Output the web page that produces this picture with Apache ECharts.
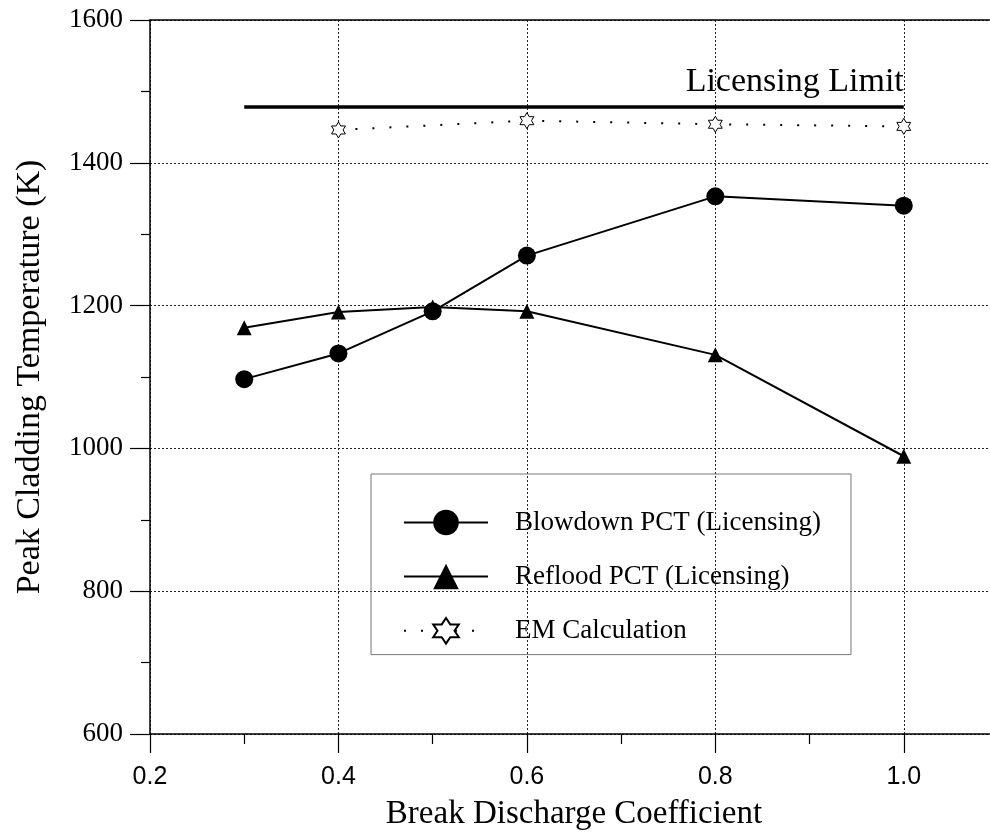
<!DOCTYPE html>
<html><head><meta charset="utf-8">
<script src="https://cdn.jsdelivr.net/npm/echarts@6.0.0/dist/echarts.min.js"></script>
<style>html,body{margin:0;padding:0;background:#fff}#c{width:990px;height:834px}</style>
</head><body><div id="c"></div>
<script>
// ---- data ----
const breakCoef   = [0.3, 0.4, 0.5, 0.6, 0.8, 1.0];
const blowdownPCT = [1097, 1133, 1192, 1270, 1353, 1340];
const refloodPCT  = [1169, 1191, 1198, 1192, 1131, 989];
const emCoef      = [0.4, 0.6, 0.8, 1.0];
const emPCT       = [1446, 1459, 1454, 1451];
const licensingLimit = 1478;
const limitRange  = [0.3, 1.0];
const xRange = [0.2, 1.1];
const yRange = [600, 1600];
const seriesNames = ['Blowdown PCT (Licensing)', 'Reflood PCT (Licensing)', 'EM Calculation'];
const xTitle = 'Break Discharge Coefficient';
const yTitle = 'Peak Cladding Temperature (K)';
const limitText = 'Licensing Limit';

const pairs = (xs, ys) => xs.map((x, i) => [x, ys[i]]);
const STAR = 'path://M50 0 L64.43 25 L93.3 25 L78.87 50 L93.3 75 L64.43 75 L50 100 L35.57 75 L6.7 75 L21.13 50 L6.7 25 L35.57 25 Z';
const SERIF = "'Liberation Serif','Times New Roman',serif";
const SANS = "'Liberation Sans',Arial,sans-serif";

const chart = echarts.init(document.getElementById('c'), null, {renderer: 'canvas'});
const gridLine = {show: true, lineStyle: {color: '#222', width: 1, type: [2, 2]}};
chart.setOption({
  animation: false,
  backgroundColor: '#fff',
  grid: {left: 150, width: 848, top: 20, height: 714, containLabel: false, outerBoundsMode: 'none'},
  legend: {
    data: seriesNames,
    orient: 'vertical',
    left: 371, top: 474,
    padding: [35, 30, 10, 32],
    itemWidth: 84, itemHeight: 32, itemGap: 27,
    borderColor: '#777', borderWidth: 1,
    textStyle: {fontFamily: SERIF, fontSize: 27, color: '#000', padding: [0, 0, 0, 22]}
  },
  xAxis: [{
    type: 'value', min: xRange[0], max: xRange[1], interval: 0.2,
    name: xTitle, nameLocation: 'middle', nameGap: 64,
    nameTextStyle: {fontFamily: SERIF, fontSize: 33, color: '#000'},
    axisLine: {show: true, onZero: false, lineStyle: {color: '#000', width: 1.5}},
    axisTick: {show: true, inside: false, length: 19, lineStyle: {color: '#000', width: 1.2}},
    minorTick: {show: true, splitNumber: 2, length: 10, lineStyle: {color: '#000', width: 1.2}},
    axisLabel: {fontFamily: SANS, fontSize: 25, color: '#000', margin: 31, showMaxLabel: false,
      formatter: v => v.toFixed(1)},
    splitLine: gridLine
  }, {
    type: 'value', position: 'top', min: xRange[0], max: xRange[1],
    axisLine: {show: true, lineStyle: {color: '#000', width: 1.5}},
    axisTick: {show: false}, axisLabel: {show: false}, splitLine: {show: false}
  }],
  yAxis: {
    type: 'value', min: yRange[0], max: yRange[1], interval: 200,
    name: yTitle, nameLocation: 'middle', nameGap: 103,
    nameTextStyle: {fontFamily: SERIF, fontSize: 34, color: '#000'},
    axisLine: {show: true, onZero: false, lineStyle: {color: '#000', width: 1.5}},
    axisTick: {show: true, inside: false, length: 20, lineStyle: {color: '#000', width: 1.2}},
    minorTick: {show: true, splitNumber: 2, length: 9, lineStyle: {color: '#000', width: 1.2}},
    axisLabel: {fontFamily: SERIF, fontSize: 27, color: '#000', margin: 27,
      formatter: v => String(v)},
    splitLine: gridLine
  },
  series: [
    {
      name: seriesNames[1], type: 'line', data: pairs(breakCoef, refloodPCT),
      symbol: 'triangle', symbolSize: 15, itemStyle: {color: '#000'},
      lineStyle: {color: '#000', width: 2}, z: 3
    },
    {
      name: seriesNames[0], type: 'line', data: pairs(breakCoef, blowdownPCT),
      symbol: 'circle', symbolSize: 18, itemStyle: {color: '#000'},
      lineStyle: {color: '#000', width: 2}, z: 4
    },
    {
      name: seriesNames[2], type: 'line', data: pairs(emCoef, emPCT),
      symbol: STAR, symbolSize: 16, symbolKeepAspect: true,
      itemStyle: {color: '#fff', borderColor: '#000', borderWidth: 1},
      lineStyle: {color: '#000', width: 2, type: [2, 15]}, z: 4
    },
    {
      name: limitText, type: 'line', data: [],
      markLine: {
        silent: true, symbol: ['none', 'none'], animation: false,
        lineStyle: {color: '#000', width: 3.5, type: 'solid'},
        label: {show: true, position: 'insideEndTop', formatter: limitText, distance: [0, 8],
          fontFamily: SERIF, fontSize: 34, color: '#000'},
        data: [[{coord: [limitRange[0], licensingLimit]}, {coord: [limitRange[1], licensingLimit]}]]
      }
    }
  ]
});
</script></body></html>
